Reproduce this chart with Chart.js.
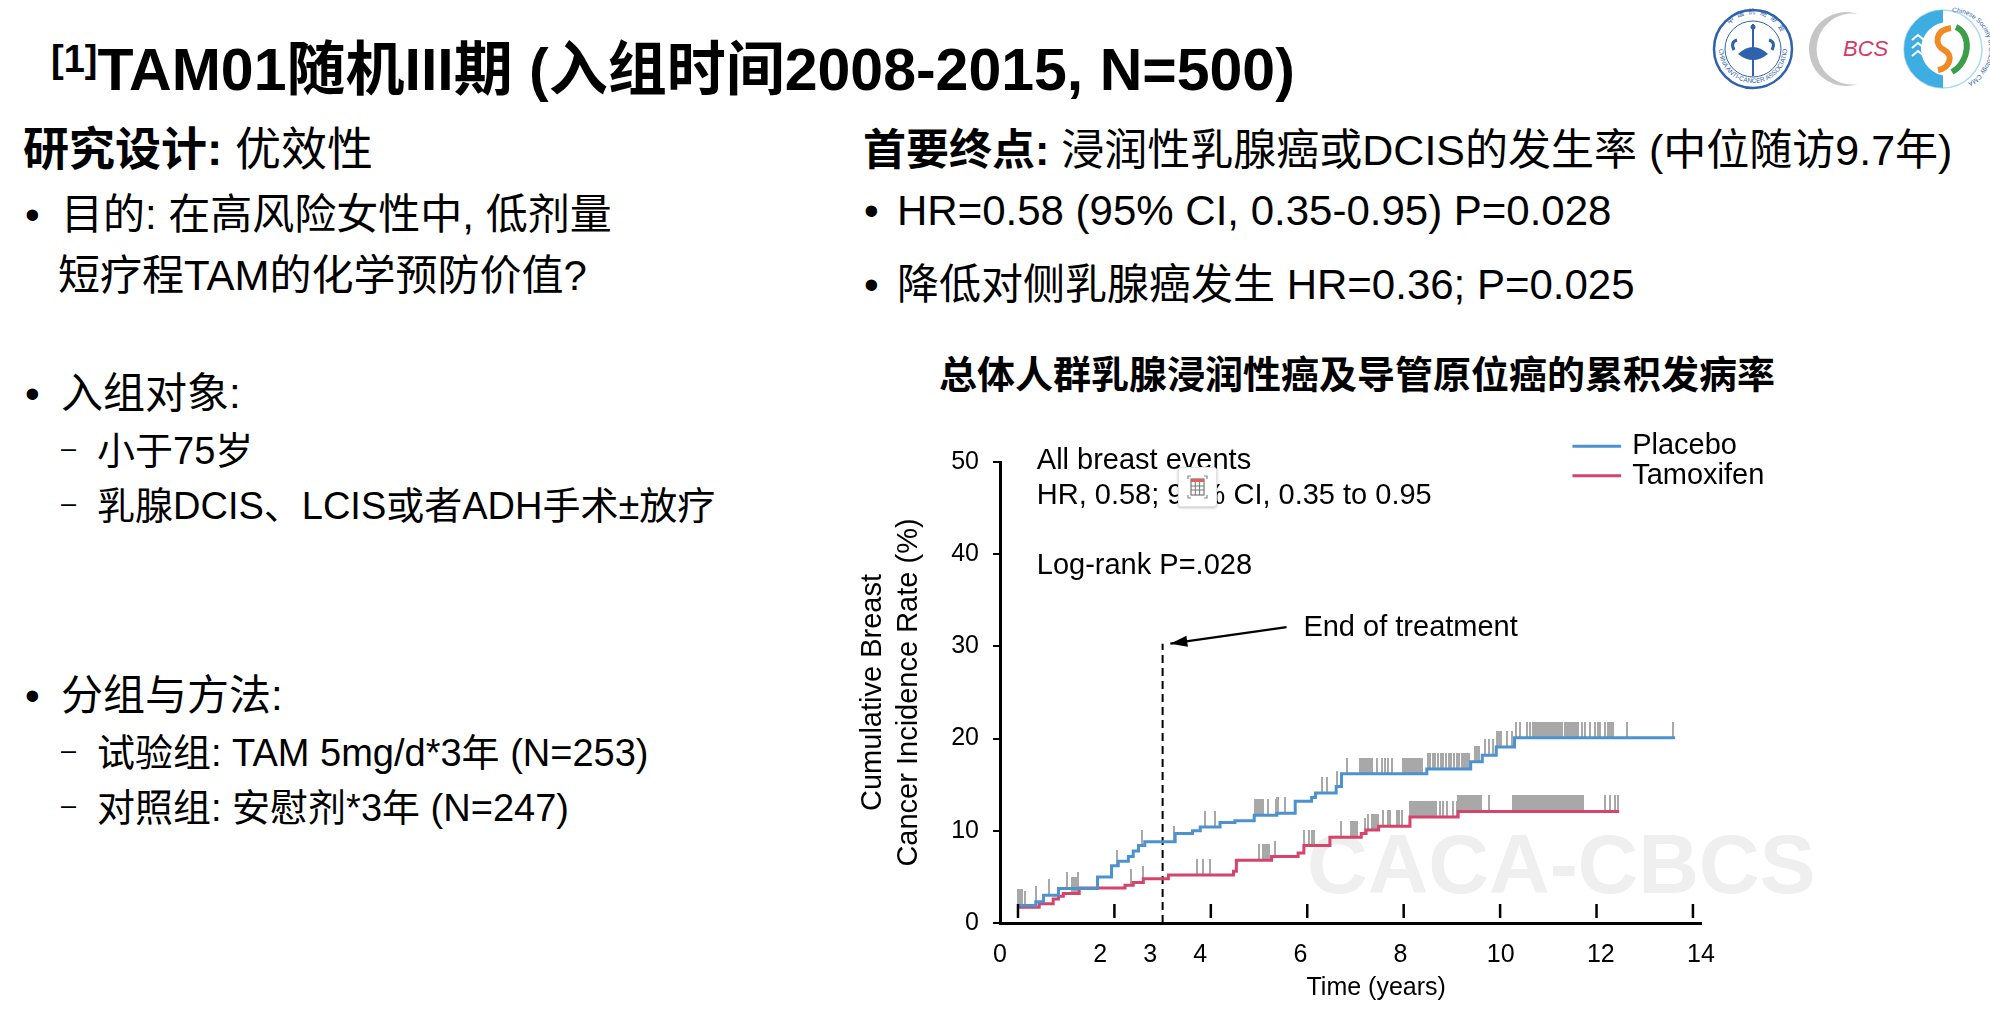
<!DOCTYPE html>
<html>
<head>
<meta charset="utf-8">
<script src="https://cdn.jsdelivr.net/npm/chart.js@4.4.1/dist/chart.umd.min.js"></script>
<style>
html,body{margin:0;padding:0;background:#fff;}
body{width:1990px;height:1034px;position:relative;overflow:hidden;font-family:"Liberation Sans","Noto Sans CJK SC",sans-serif;color:#000;}
.t{position:absolute;white-space:nowrap;line-height:1;}
.bold{font-weight:bold;}
.l1{font-size:42px;}
.l2{font-size:38px;}
.dash{font-size:27px;}
#wm{position:absolute;left:1307px;top:822px;font:bold 84px "Liberation Sans",sans-serif;color:#efefef;white-space:nowrap;line-height:1;}
#chartBox{position:absolute;left:840px;top:400px;width:960px;height:623px;}
#calc{position:absolute;left:1178px;top:467px;width:37px;height:38px;background:#fff;border:1px solid #e2e2e2;border-radius:3px;box-shadow:0 1px 3px rgba(0,0,0,0.25);}
#logos{position:absolute;left:1700px;top:0;}
</style>
</head>
<body>

<div class="t bold" style="left:51px;top:41px;font-size:59px;"><span style="font-size:38px;position:relative;top:-18px;">[1]</span>TAM01随机III期 (入组时间2008-2015, N=500)</div>

<div class="t" style="left:23px;top:126px;font-size:46px;"><span class="bold">研究设计:</span> 优效性</div>
<div class="t l1" style="left:25px;top:194px;">•</div>
<div class="t l1" style="left:61px;top:194px;">目的: 在高风险女性中, 低剂量</div>
<div class="t l1" style="left:58px;top:255px;">短疗程TAM的化学预防价值?</div>

<div class="t l1" style="left:25px;top:373px;">•</div>
<div class="t l1" style="left:61px;top:373px;">入组对象:</div>
<div class="t dash" style="left:61px;top:435px;">–</div>
<div class="t l2" style="left:97px;top:432px;">小于75岁</div>
<div class="t dash" style="left:61px;top:490px;">–</div>
<div class="t l2" style="left:97px;top:487px;">乳腺DCIS、LCIS或者ADH手术±放疗</div>

<div class="t l1" style="left:25px;top:675px;">•</div>
<div class="t l1" style="left:61px;top:675px;">分组与方法:</div>
<div class="t dash" style="left:61px;top:737px;">–</div>
<div class="t l2" style="left:97px;top:734px;">试验组: TAM 5mg/d*3年 (N=253)</div>
<div class="t dash" style="left:61px;top:792px;">–</div>
<div class="t l2" style="left:97px;top:789px;">对照组: 安慰剂*3年 (N=247)</div>

<div class="t" style="left:863px;top:129px;font-size:43px;"><span class="bold">首要终点:</span> 浸润性乳腺癌或DCIS的发生率 (中位随访9.7年)</div>
<div class="t l1" style="left:864px;top:190px;">•</div>
<div class="t l1" style="left:897px;top:190px;">HR=0.58 (95% CI, 0.35-0.95) P=0.028</div>
<div class="t l1" style="left:864px;top:264px;">•</div>
<div class="t l1" style="left:897px;top:264px;">降低对侧乳腺癌发生 HR=0.36; P=0.025</div>

<div class="t bold" style="left:939px;top:356px;font-size:38px;">总体人群乳腺浸润性癌及导管原位癌的累积发病率</div>

<div id="wm">CACA-CBCS</div>
<div id="chartBox"><canvas id="km"></canvas></div>

<div id="calc">
  <svg width="37" height="38" viewBox="0 0 37 38">
    <path d="M9 11 V8 H12 M25 8 H28 V11 M28 27 V30 H25 M12 30 H9 V27" fill="none" stroke="#888" stroke-width="1.2"/>
    <rect x="12" y="11" width="13" height="16" fill="#fff" stroke="#777" stroke-width="1.2"/>
    <rect x="12" y="11" width="13" height="3" fill="#e0605a"/>
    <path d="M12 18 H25 M12 22 H25 M16.3 14 V27 M20.6 14 V27" stroke="#777" stroke-width="1"/>
  </svg>
</div>

<svg id="logos" width="290" height="110" viewBox="1700 0 290 110">
  <circle cx="1753" cy="49" r="39" fill="#fff" stroke="#2e62ad" stroke-width="2.5"/>
  <circle cx="1753" cy="49" r="28" fill="none" stroke="#2e62ad" stroke-width="1"/>
  <path id="ring1" d="M1719 49 A34 34 0 0 0 1787 49" fill="none"/>
  <text font-size="6.5" fill="#2e62ad" font-family="Liberation Sans"><textPath href="#ring1">CHINA ANTI-CANCER ASSOCIATION</textPath></text>
  <path id="ring1b" d="M1722 45 A31 31 0 0 1 1784 45" fill="none"/>
  <text font-size="7" fill="#2e62ad" font-family="Noto Sans CJK SC" letter-spacing="4"><textPath href="#ring1b" startOffset="22">中国抗癌协会</textPath></text>
  <line x1="1753" y1="24" x2="1753" y2="76" stroke="#2e62ad" stroke-width="2"/>
  <circle cx="1753" cy="27" r="2.5" fill="#2e62ad"/>
  <path d="M1738 54 Q1753 40 1768 54 Q1753 66 1738 54 Z" fill="#2e62ad"/>
  <path d="M1734 50 Q1730 42 1737 40 M1772 50 Q1776 42 1769 40" fill="none" stroke="#2e62ad" stroke-width="3"/>

  <path d="M1858 14 A37 37 0 1 0 1858 84 A35.5 35.5 0 1 1 1858 14 Z" fill="#c6c6c6"/>
  <text x="1843" y="56" font-size="22" fill="#d23c64" font-style="italic" font-family="Liberation Sans">BCS</text>

  <circle cx="1943" cy="49" r="39" fill="#fff" stroke="#a9dbf2" stroke-width="1.5"/>
  <path d="M1943 10 A39 39 0 0 0 1943 88 Z" fill="#3eaee2"/>
  <circle cx="1948" cy="49" r="27" fill="#fff"/>
  <path d="M1912 40 L1918 35 L1924 40 M1912 48 L1918 43 L1924 48 M1912 56 L1918 51 L1924 56" fill="none" stroke="#fff" stroke-width="2"/>
  <path d="M1951 28 C1935 30 1934 45 1944 50 C1954 55 1950 68 1938 70" fill="none" stroke="#f08a24" stroke-width="6"/>
  <path d="M1956 27 C1972 34 1970 62 1952 72" fill="none" stroke="#3a9f48" stroke-width="6"/>
  <path id="ring3" d="M1952 12 A37 37 0 0 1 1952 86" fill="none"/>
  <text font-size="6.5" fill="#2e62ad" font-family="Liberation Sans"><textPath href="#ring3">Chinese Society of Oncology CMA</textPath></text>
</svg>

<script>
// 시간(년) 축: 그림의 눈금 기준
const xTickValues  = [0, 2, 4, 6, 8, 10, 12, 14];
const xLabelValues = [0, 2, 3, 4, 6, 8, 10, 12, 14];
const yTickStep = 10;

// Placebo 누적 발생률 (계단형, 시점별 값)
const placeboTime = [0, 0.37, 0.53, 0.84, 1.65, 1.94, 2.08, 2.29, 2.39, 2.50, 2.63, 3.26, 3.62, 3.78, 4.19, 4.50, 4.90, 5.37, 5.75, 6.09, 6.17, 6.60, 6.71, 8.48, 9.39, 9.63, 9.92, 10.30, 13.63];
const placeboRate = [1.9, 2.3, 3.0, 3.75, 5.0, 6.2, 6.7, 7.2, 7.8, 8.4, 8.8, 9.7, 10.0, 10.4, 10.9, 11.1, 11.7, 11.9, 13.2, 13.6, 14.1, 14.8, 16.2, 16.7, 17.5, 18.2, 19.1, 20.1, 20.1];

// Tamoxifen 누적 발생률
const tamoxTime = [0, 0.44, 0.73, 0.84, 0.94, 1.27, 2.22, 2.39, 2.60, 3.12, 4.47, 4.53, 5.26, 5.81, 5.93, 6.47, 7.12, 7.22, 7.48, 8.13, 9.13, 12.47];
const tamoxRate = [1.7, 2.1, 2.6, 2.9, 3.2, 3.8, 4.1, 4.4, 4.8, 5.2, 5.6, 6.8, 7.2, 7.6, 8.4, 9.3, 9.7, 10.1, 10.5, 11.5, 12.1, 12.1];

// 중도절단(censor) 시점
const placeboCensor = [0.01, 0.03, 0.05, 0.07, 0.09, 0.37, 0.65, 1.01, 1.25, 2.06, 2.57, 3.24, 3.88, 4.09,
  4.92, 4.96, 5.00, 5.04, 5.08, 5.19, 5.35, 5.38, 5.40, 5.54, 6.30, 6.40, 6.61, 6.82,
  7.10, 7.14, 7.18, 7.22, 7.26, 7.30, 7.34, 7.44, 7.54, 7.61, 7.68, 7.75,
  7.98, 8.02, 8.06, 8.10, 8.14, 8.18, 8.22, 8.26, 8.30, 8.34, 8.37,
  8.50, 8.55, 8.60, 8.66, 8.71, 8.77, 8.82, 8.88, 8.93, 8.99, 9.04, 9.10, 9.15, 9.20, 9.24, 9.28, 9.32, 9.36,
  9.48, 9.52, 9.56, 9.69, 9.78, 9.85, 9.93, 9.97, 10.01, 10.14, 10.24, 10.34, 10.41, 10.55, 10.62,
  10.69, 10.73, 10.77, 10.81, 10.85, 10.89, 10.93, 10.97, 11.01, 11.05, 11.09, 11.13, 11.17, 11.21, 11.24, 11.28,
  11.35, 11.39, 11.43, 11.47, 11.51, 11.55, 11.59, 11.62, 11.69, 11.76, 11.86, 11.97, 12.04, 12.07, 12.17,
  12.24, 12.28, 12.31, 12.35, 12.63, 13.59];
const tamoxCensor = [0.15, 1.13, 1.17, 1.21, 1.25, 2.34, 2.59, 3.71, 3.84, 3.98,
  5.00, 5.09, 5.13, 5.17, 5.21, 5.33, 5.93, 6.04, 6.09, 6.14, 6.69, 6.91, 6.95, 6.99, 7.03,
  7.20, 7.27, 7.34, 7.38, 7.42, 7.46, 7.58, 7.67, 7.72, 7.86, 7.91, 7.96,
  8.13, 8.17, 8.21, 8.25, 8.29, 8.33, 8.37, 8.41, 8.45, 8.49, 8.53, 8.57, 8.61, 8.65, 8.68,
  8.75, 8.82, 8.89, 9.03, 9.10, 9.13, 9.17, 9.21, 9.25, 9.29, 9.33, 9.37, 9.41, 9.45, 9.49, 9.53, 9.57, 9.60, 9.76,
  10.27, 10.31, 10.35, 10.39, 10.43, 10.47, 10.51, 10.55, 10.59, 10.63, 10.67, 10.71, 10.75, 10.79, 10.83, 10.87,
  10.91, 10.95, 10.99, 11.03, 11.07, 11.11, 11.15, 11.19, 11.23, 11.27, 11.31, 11.35, 11.39, 11.43, 11.47, 11.51,
  11.55, 11.59, 11.63, 11.67, 11.71, 12.18, 12.27, 12.38, 12.45];

// 치료 종료 표시
const endTreatmentYear = 3;
const endTreatmentTop = 30.3;

const BLUE = '#4b92cf';
const RED  = '#d6436b';

function rateAt(times, rates, t){
  let v = rates[0];
  for (let i = 0; i < times.length; i++) { if (times[i] <= t) v = rates[i]; }
  return v;
}
function censorMark(){
  const c = document.createElement('canvas');
  c.width = 2; c.height = 32;
  const g = c.getContext('2d');
  g.fillStyle = '#a8a8a8';
  g.fillRect(0, 0, 2, 16);
  return c;
}
const mark = censorMark();

const overlay = {
  id: 'overlay',
  afterDatasetsDraw(chart){
    const {ctx, chartArea, scales} = chart;
    const x = scales.x, y = scales.y;
    ctx.save();
    // 안쪽 x 눈금
    ctx.strokeStyle = '#000'; ctx.lineWidth = 2.5;
    xTickValues.forEach(v => {
      const px = x.getPixelForValue(v);
      ctx.beginPath(); ctx.moveTo(px, chartArea.bottom - 5); ctx.lineTo(px, chartArea.bottom - 19); ctx.stroke();
    });
    // 화살표 머리
    const ds = chart.data.datasets.find(d => d.label === 'arrow');
    const p0 = ds.data[0], p1 = ds.data[1];
    const x0 = x.getPixelForValue(p0.x), y0 = y.getPixelForValue(p0.y);
    const x1 = x.getPixelForValue(p1.x), y1 = y.getPixelForValue(p1.y);
    const ang = Math.atan2(y1 - y0, x1 - x0);
    ctx.fillStyle = '#000';
    ctx.beginPath();
    ctx.moveTo(x1, y1);
    ctx.lineTo(x1 - 17 * Math.cos(ang) + 5.5 * Math.sin(ang), y1 - 17 * Math.sin(ang) - 5.5 * Math.cos(ang));
    ctx.lineTo(x1 - 17 * Math.cos(ang) - 5.5 * Math.sin(ang), y1 - 17 * Math.sin(ang) + 5.5 * Math.cos(ang));
    ctx.closePath(); ctx.fill();
    // 주석 텍스트
    ctx.font = '29px "Liberation Sans", Arial, sans-serif';
    ctx.textBaseline = 'middle'; ctx.textAlign = 'left';
    [['All breast events', 0.39, 50.1], ['HR, 0.58; 95% CI, 0.35 to 0.95', 0.39, 46.3],
     ['Log-rank P=.028', 0.39, 38.7], ['End of treatment', 5.92, 32.0]].forEach(([s, tx, ty]) => {
      ctx.fillText(s, x.getPixelForValue(tx), y.getPixelForValue(ty));
    });
    // 범례
    const leg = chart.data.datasets.filter(d => d.legend);
    leg.forEach((d, i) => {
      const ly = y.getPixelForValue(51.7 - i * 3.2);
      ctx.strokeStyle = d.borderColor; ctx.lineWidth = 3;
      ctx.beginPath(); ctx.moveTo(x.getPixelForValue(11.5), ly); ctx.lineTo(x.getPixelForValue(12.51), ly); ctx.stroke();
      ctx.fillStyle = '#000';
      ctx.fillText(d.label, x.getPixelForValue(12.74), ly);
    });
    // x축 제목
    ctx.font = '25px "Liberation Sans", Arial, sans-serif';
    ctx.textAlign = 'center';
    ctx.fillText('Time (years)', x.getPixelForValue(7.43), y.getPixelForValue(-7.1));
    ctx.restore();
  }
};

Chart.defaults.font.family = '"Liberation Sans", Arial, sans-serif';
Chart.defaults.color = '#000';

new Chart(document.getElementById('km'), {
  type: 'line',
  data: {
    datasets: [
      { label: 'Placebo', legend: true, data: placeboTime.map((t, i) => ({x: t, y: placeboRate[i]})),
        borderColor: BLUE, borderWidth: 3, stepped: 'before', pointRadius: 0, order: 1 },
      { label: 'Tamoxifen', legend: true, data: tamoxTime.map((t, i) => ({x: t, y: tamoxRate[i]})),
        borderColor: RED, borderWidth: 3, stepped: 'before', pointRadius: 0, order: 1 },
      { type: 'scatter', label: 'placebo censored', data: placeboCensor.map(t => ({x: t, y: rateAt(placeboTime, placeboRate, t)})),
        pointStyle: mark, pointRadius: 2, order: 3 },
      { type: 'scatter', label: 'tamoxifen censored', data: tamoxCensor.map(t => ({x: t, y: rateAt(tamoxTime, tamoxRate, t)})),
        pointStyle: mark, pointRadius: 2, order: 3 },
      { label: 'end', data: [{x: endTreatmentYear, y: 0}, {x: endTreatmentYear, y: endTreatmentTop}],
        borderColor: '#000', borderWidth: 2, borderDash: [8, 5], pointRadius: 0, order: 2 },
      { label: 'arrow', data: [{x: 5.57, y: 32.1}, {x: 3.16, y: 30.3}],
        borderColor: '#000', borderWidth: 2.2, pointRadius: 0, order: 2 }
    ]
  },
  options: {
    responsive: true,
    maintainAspectRatio: false,
    animation: false,
    layout: { padding: { top: 62, right: 99, left: 0, bottom: 0 } },
    plugins: { legend: { display: false }, tooltip: { enabled: false } },
    scales: {
      x: {
        type: 'linear', position: 'bottom', min: -0.373, max: 14.167,
        ticks: { display: false }, grid: { display: false },
        border: { display: true, color: '#000', width: 3 },
        afterFit(s){ s.height = 0; }
      },
      x2: {
        type: 'linear', position: 'bottom', min: 0, max: 14,
        afterBuildTicks(s){ s.ticks = xLabelValues.map(v => ({value: v})); },
        ticks: { autoSkip: false, maxRotation: 0, font: { size: 25 }, padding: 9 },
        grid: { display: false }, border: { display: false },
        afterFit(s){ s.height = 100; }
      },
      y: {
        min: 0, max: 50,
        ticks: { stepSize: yTickStep, font: { size: 25 }, padding: 14 },
        grid: { display: true, drawOnChartArea: false, drawTicks: true, tickLength: 7, color: '#000', lineWidth: 2 },
        border: { display: true, color: '#000', width: 3 },
        title: { display: true, text: ['Cumulative Breast', 'Cancer Incidence Rate (%)'],
                 font: { size: 29, lineHeight: 1.24 }, padding: { top: 15, bottom: 0 } },
        afterFit(s){ s.width = 160; }
      }
    }
  },
  plugins: [overlay]
});
</script>
</body>
</html>
